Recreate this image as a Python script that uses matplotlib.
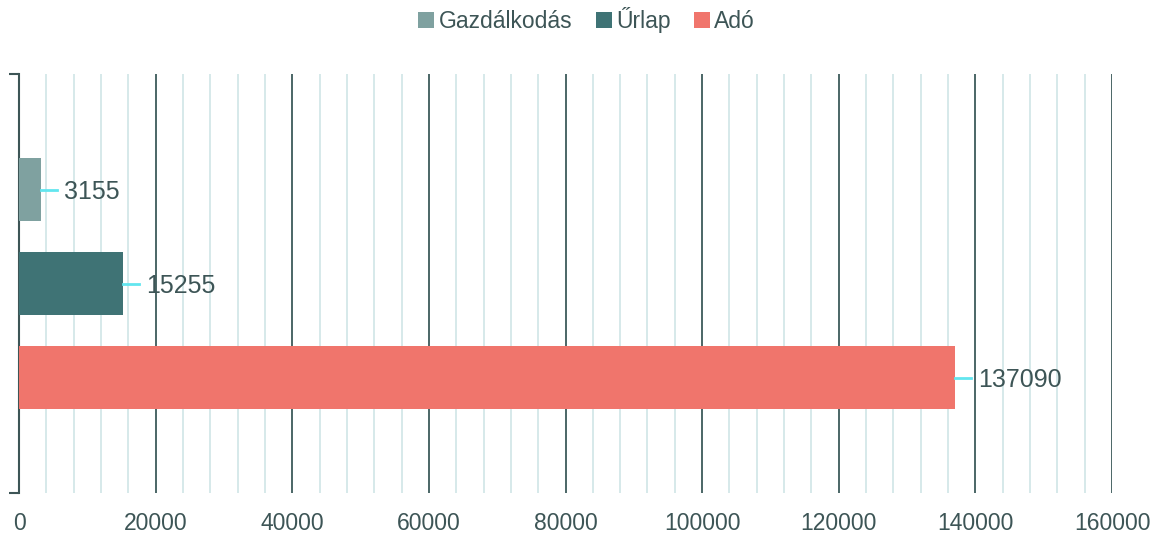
import matplotlib.pyplot as plt
from matplotlib.ticker import MultipleLocator
from matplotlib.patches import Patch

plt.rcParams['font.family'] = ['Liberation Sans', 'DejaVu Sans']

series = ["Gazdálkodás", "Űrlap", "Adó"]
values = [3155, 15255, 137090]
colors = ["#7fa1a0", "#3f7375", "#f0756c"]
text_color = "#3d5556"

fig = plt.figure(figsize=(11.55, 5.35), dpi=100)
ax = fig.add_axes([19 / 1155, 42 / 535, 1093 / 1155, 419 / 535])

ypos = [0, 1, 2]
ax.barh(ypos, values, height=0.67, color=colors, zorder=3)

ax.set_xlim(0, 160000)
half = 419 / 94 / 2
ax.set_ylim(1 + half, 1 - half)

ax.xaxis.set_major_locator(MultipleLocator(20000))
ax.xaxis.set_minor_locator(MultipleLocator(4000))
ax.grid(axis="x", which="minor", color="#d3e7e8", lw=1.3, zorder=0)
ax.grid(axis="x", which="major", color="#3d5a5b", lw=1.3, zorder=1)
ax.tick_params(axis="x", which="both", length=0, labelsize=16.5, labelcolor=text_color, pad=14)

ax.set_yticks([1 - half, 1 + half])
ax.set_yticklabels([])
ax.tick_params(axis="y", length=7, width=1.5, color=text_color)
for s in ["top", "right", "bottom"]:
    ax.spines[s].set_visible(False)
ax.spines["left"].set_color(text_color)
ax.spines["left"].set_linewidth(1.5)

# leader lines and value labels
px = 160000 / 1093
for y, v in zip(ypos, values):
    ax.plot([v, v + 16 * px], [y, y], color="#62e6ef", lw=2, zorder=4, clip_on=False)
    ax.text(v + 23 * px, y + 0.03, str(v), va="center", ha="left", fontsize=18,
            color=text_color, zorder=5)

handles = [Patch(facecolor=c, edgecolor="none") for c in colors]
fig.legend(handles, series, loc="upper center", bbox_to_anchor=(0.508, 1.025), ncol=3,
           frameon=False, fontsize=16.5, labelcolor=text_color, handlelength=0.7,
           handleheight=0.7, handletextpad=0.2, columnspacing=1.0)

fig.savefig("out.png", dpi=100)
